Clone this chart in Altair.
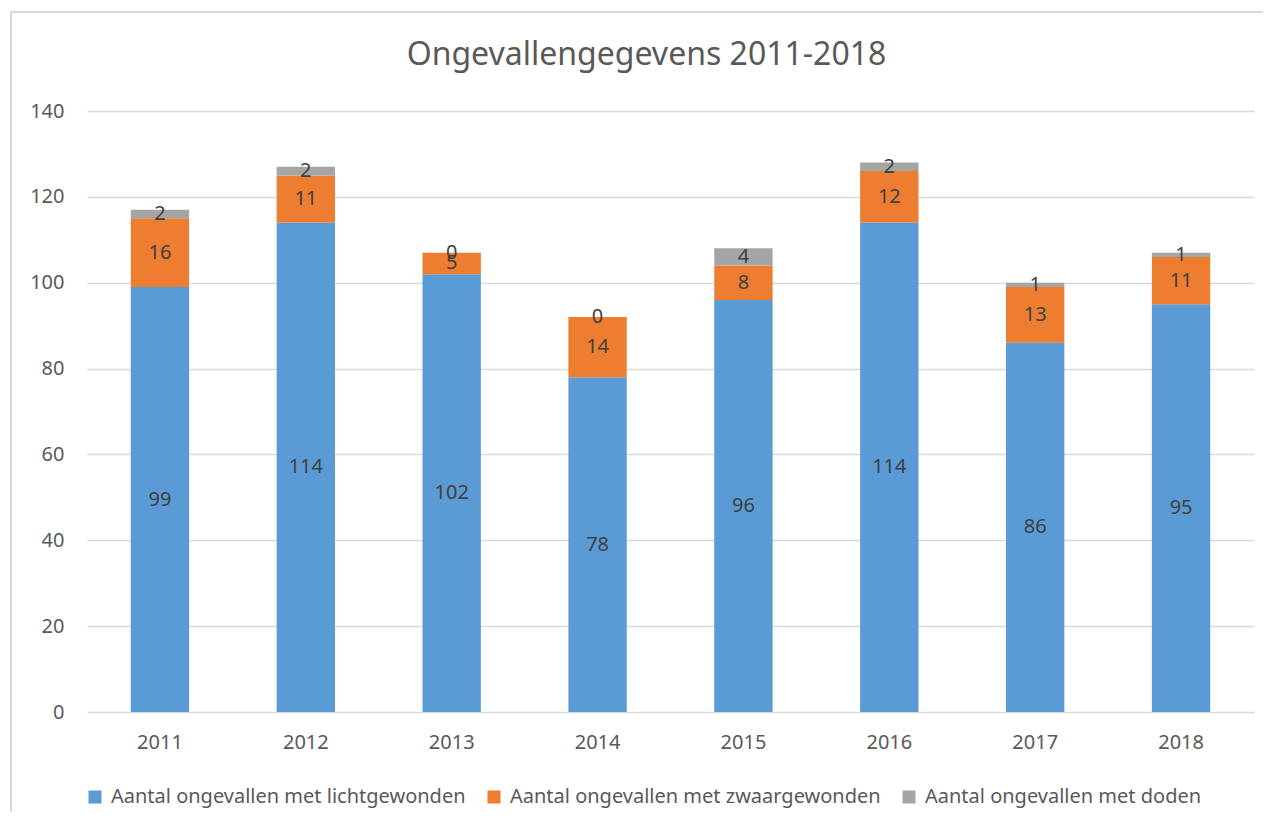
import altair as alt
import pandas as pd

years = ["2011", "2012", "2013", "2014", "2015", "2016", "2017", "2018"]
licht = [99, 114, 102, 78, 96, 114, 86, 95]
zwaar = [16, 11, 5, 14, 8, 12, 13, 11]
doden = [2, 2, 0, 0, 4, 2, 1, 1]
series = [
    "Aantal ongevallen met lichtgewonden",
    "Aantal ongevallen met zwaargewonden",
    "Aantal ongevallen met doden",
]
colors = ["#5B9BD5", "#ED7D31", "#A5A5A5"]

rows = []
for i, y in enumerate(years):
    for k, (s, vals) in enumerate(zip(series, [licht, zwaar, doden])):
        rows.append({"jaar": y, "reeks": s, "waarde": vals[i], "volg": k})
df = pd.DataFrame(rows)

FONT = "Noto Sans"
W, H = 1167, 601

x_enc = alt.X(
    "jaar:N",
    title=None,
    sort=years,
    scale=alt.Scale(paddingInner=0.6, paddingOuter=0.3),
    axis=alt.Axis(labelAngle=0, ticks=False, domain=False, labelPadding=20,
                  labelFontSize=20, labelColor="#595959", labelFont=FONT),
)

base = alt.Chart(df)

bars = base.mark_bar().encode(
    x=x_enc,
    y=alt.Y(
        "waarde:Q",
        stack="zero",
        title=None,
        scale=alt.Scale(domain=[0, 140]),
        axis=alt.Axis(values=[0, 20, 40, 60, 80, 100, 120, 140], ticks=False, domain=False,
                      labelPadding=23, labelFontSize=20, labelColor="#595959", labelFont=FONT,
                      gridColor="#D9D9D9", gridWidth=1.5),
    ),
    color=alt.Color(
        "reeks:N",
        sort=series,
        scale=alt.Scale(domain=series, range=colors),
        legend=alt.Legend(
            title=None, orient="none", direction="horizontal", legendX=-2, legendY=676,
            symbolType="square", symbolSize=170, symbolStrokeWidth=0,
            labelFontSize=20, labelColor="#595959", labelFont=FONT, labelLimit=600,
            labelOffset=6, columnPadding=18,
        ),
    ),
    order=alt.Order("volg:Q", sort="ascending"),
)

labels = base.transform_stack(
    stack="waarde", groupby=["jaar"], sort=[alt.SortField("volg", order="ascending")],
    as_=["v0", "v1"],
).transform_calculate(mid="(datum.v0 + datum.v1) / 2").mark_text(
    fontSize=20, color="#404040", font=FONT, baseline="middle", align="center"
).encode(
    x=alt.X("jaar:N", sort=years),
    y=alt.Y("mid:Q"),
    text=alt.Text("waarde:Q"),
)

border = alt.Chart(pd.DataFrame({"a": [0]})).mark_rect(
    fill=None, stroke="#D9D9D9", strokeWidth=2
).encode(
    x=alt.value(-76), x2=alt.value(1181), y=alt.value(-99), y2=alt.value(730)
)

chart = alt.layer(border, bars, labels).properties(
    width=W,
    height=H,
    title=alt.TitleParams(
        "Ongevallengegevens 2011-2018", fontSize=32, color="#595959", font=FONT,
        fontWeight="normal", anchor="middle", offset=-61, dx=-24,
    ),
    autosize=alt.AutoSizeParams(type="none"),
    padding={"left": 79, "top": 103, "right": 9, "bottom": 100},
).configure_view(stroke=None)

chart.save("out.html", embed_options={"renderer": "svg", "actions": False})
